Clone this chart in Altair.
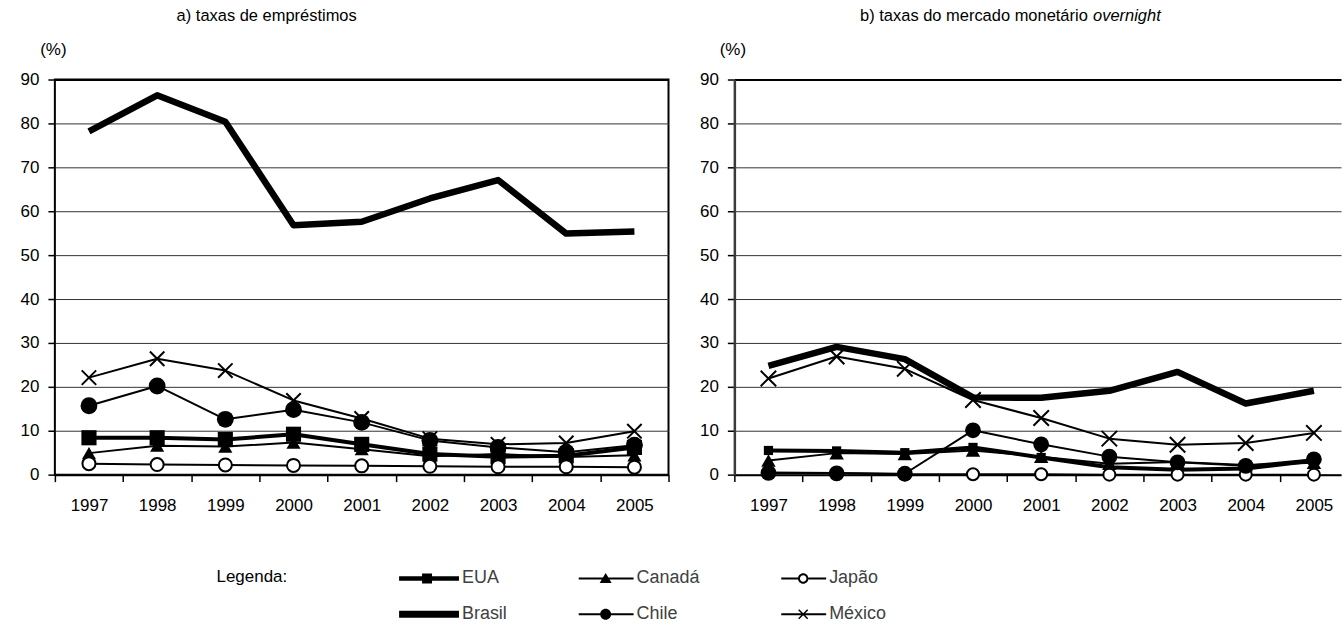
import altair as alt
import pandas as pd

FONT = "Liberation Sans"

anos = [1997, 1998, 1999, 2000, 2001, 2002, 2003, 2004, 2005]
paises = ["EUA", "Canadá", "Japão", "Brasil", "Chile", "México"]

# a) taxas de empréstimos (%)
emp_eua = [8.4, 8.4, 8.0, 9.2, 6.9, 4.7, 4.1, 4.3, 6.2]
emp_canada = [4.9, 6.6, 6.4, 7.3, 5.8, 4.2, 4.7, 4.0, 4.4]
emp_japao = [2.5, 2.3, 2.2, 2.1, 2.0, 1.9, 1.8, 1.8, 1.7]
emp_brasil = [78.2, 86.4, 80.4, 56.8, 57.6, 62.9, 67.1, 54.9, 55.4]
emp_chile = [15.7, 20.2, 12.6, 14.8, 11.9, 7.8, 6.2, 5.1, 6.7]
emp_mexico = [22.1, 26.4, 23.7, 16.9, 12.8, 8.2, 6.9, 7.2, 9.9]

# b) taxas do mercado monetário overnight (%)
ovn_eua = [5.5, 5.4, 5.0, 6.2, 3.9, 1.7, 1.1, 1.4, 3.2]
ovn_canada = [3.2, 4.9, 4.7, 5.5, 4.1, 2.5, 2.9, 2.2, 2.7]
ovn_japao = [0.5, 0.4, 0.1, 0.1, 0.1, 0.0, 0.0, 0.0, 0.0]
ovn_brasil = [24.8, 29.1, 26.3, 17.6, 17.5, 19.1, 23.4, 16.2, 19.1]
ovn_chile = [0.4, 0.3, 0.2, 10.1, 6.9, 4.1, 2.8, 2.0, 3.5]
ovn_mexico = [21.9, 26.9, 24.1, 17.0, 12.9, 8.2, 6.8, 7.2, 9.5]

series_emp = dict(zip(paises, [emp_eua, emp_canada, emp_japao, emp_brasil, emp_chile, emp_mexico]))
series_ovn = dict(zip(paises, [ovn_eua, ovn_canada, ovn_japao, ovn_brasil, ovn_chile, ovn_mexico]))


def tabela(series):
    rows = []
    for pais in paises:
        for ano, v in zip(anos, series[pais]):
            rows.append({"pais": pais, "ano": ano, "valor": v})
    return pd.DataFrame(rows)


df_emp = tabela(series_emp)
df_ovn = tabela(series_ovn)

XSHAPE = "M-1,-1L1,1M-1,1L1,-1"

# line width and marker of each series (marker sizes for panel a, panel b)
estilo = {
    "EUA": dict(lw=4, shape="square", kind="filled", size=(230, 85)),
    "Canadá": dict(lw=2, shape="triangle-up", kind="filled", size=(200, 210)),
    "Japão": dict(lw=2, shape="circle", kind="open", size=(170, 145)),
    "Brasil": dict(lw=6.5, shape=None, kind=None, size=(0, 0)),
    "Chile": dict(lw=2, shape="circle", kind="filled", size=(285, 250)),
    "México": dict(lw=2, shape=XSHAPE, kind="cross", size=(210, 240)),
}

# legend glyphs: line segment plus marker, drawn as filled outlines
legenda_paths = {
    "EUA": "M-1,-0.45H11V0.45H-1Z M3.6,-1H5.6V1H3.6Z",
    "Canadá": "M0,-0.2H11V0.2H0Z M5.4,-1.1L6.6,0.9L4.2,0.9Z",
    "Japão": ("M2,-0.2H5.35V0.2H2Z M7.45,-0.2H11V0.2H7.45Z "
              "M5.35,0A1.05,1.05,0,1,1,7.45,0A1.05,1.05,0,1,1,5.35,0Z "
              "M5.75,0A0.65,0.65,0,1,0,7.05,0A0.65,0.65,0,1,0,5.75,0Z"),
    "Brasil": "M-1,-0.7H11V0.7H-1Z",
    "Chile": "M0,-0.2H11V0.2H0Z M4.3,0A1.1,1.1,0,1,1,6.5,0A1.1,1.1,0,1,1,4.3,0Z",
    "México": ("M2,-0.2H11V0.2H2Z "
               "M5.606,-1.006L7.406,0.794L7.194,1.006L5.394,-0.794Z "
               "M5.394,0.794L7.194,-1.006L7.406,-0.794L5.606,1.006Z"),
}

H = 396
FS = 17
TITLE_Y = -64  # vertical centre of the panel titles, relative to the plot top


def enc_x(dom, ticks, titulo_eixo=None):
    if titulo_eixo:
        kw = dict(title=titulo_eixo["text"], titleX=titulo_eixo["x"], titleY=titulo_eixo["y"],
                  titleAlign="left", titleBaseline="middle", titleAngle=0,
                  titleFontStyle="italic", titleFontWeight="normal",
                  titleFontSize=16.5, titleColor="black", titleFont=FONT)
    else:
        kw = dict(title=None)
    return alt.X(
        "ano:Q",
        scale=alt.Scale(domain=dom, nice=False, zero=False),
        axis=alt.Axis(
            values=ticks,
            labelExpr="datum.value > 2005 ? '' : format(datum.value + 0.5, 'd')",
            labelOffset=34.2, labelFlush=False, labelOverlap=False,
            labelFontSize=FS, labelColor="black", labelFont=FONT, labelPadding=16,
            tickSize=7, tickColor="black", tickWidth=1.5,
            domainColor="black", domainWidth=2, grid=False, **kw,
        ),
    )


def enc_y(dominio_eixo):
    return alt.Y(
        "valor:Q",
        scale=alt.Scale(domain=[0, 90], nice=False),
        axis=alt.Axis(
            values=list(range(0, 91, 10)),
            title="(%)", titleAngle=0, titleX=-2, titleY=-30,
            titleAlign="center", titleBaseline="middle",
            titleFontSize=FS, titleFontWeight="normal", titleColor="black", titleFont=FONT,
            labelFontSize=FS, labelColor="black", labelFont=FONT, labelPadding=9,
            tickSize=7, tickColor="black", tickWidth=1.5,
            grid=True,
            gridColor={"condition": {"test": "datum.value === 90", "value": "black"}, "value": "#333333"},
            gridWidth={"condition": {"test": "datum.value === 90", "value": 2}, "value": 1},
            domain=dominio_eixo, domainColor="#3a3a3a", domainWidth=2.5,
        ),
    )


def painel(df, idx, x, y, com_legenda=False):
    camadas = []
    for pais in paises:
        st = estilo[pais]
        base = alt.Chart(df).transform_filter(alt.datum.pais == pais)
        camadas.append(
            base.mark_line(color="black", strokeWidth=st["lw"], strokeJoin="round").encode(x=x, y=y)
        )
        if st["kind"] == "filled":
            camadas.append(base.mark_point(shape=st["shape"], filled=True, color="black",
                                           size=st["size"][idx], opacity=1, strokeWidth=0).encode(x=x, y=y))
        elif st["kind"] == "open":
            camadas.append(base.mark_point(shape=st["shape"], filled=True, fill="white", stroke="black",
                                           strokeWidth=2, size=st["size"][idx], opacity=1).encode(x=x, y=y))
        elif st["kind"] == "cross":
            camadas.append(base.mark_point(shape=st["shape"], filled=False, color="black",
                                           strokeWidth=2, size=st["size"][idx], opacity=1).encode(x=x, y=y))
    if com_legenda:
        camadas.append(
            alt.Chart(df).mark_point(filled=True, color="black", opacity=0, strokeWidth=0).encode(
                x=x, y=y,
                shape=alt.Shape(
                    "pais:N",
                    scale=alt.Scale(domain=paises, range=[legenda_paths[p] for p in paises]),
                    legend=alt.Legend(
                        title="Legenda:", titleOrient="left", titleFontSize=FS,
                        titleFontWeight="normal", titleColor="black", titleFont=FONT,
                        titlePadding=108, titleAnchor="start", titleBaseline="top",
                        orient="none", legendX=162, legendY=491, direction="horizontal",
                        columns=3, columnPadding=62, rowPadding=18,
                        symbolSize=100, symbolStrokeWidth=0, symbolFillColor="black",
                        symbolOpacity=1, labelOffset=49, labelFontSize=18,
                        labelFont=FONT, labelColor="#404040", labelLimit=0,
                    ),
                ),
            )
        )
    return alt.layer(*camadas)


ticks_a = [1996.5 + i for i in range(10)]
ticks_b = [1996.5 + i for i in range(9)]

WA = 615
WB = 608
dom_a = [1996.5, 2005.5]
dom_b = [1996.5, 1996.5 + 9 * WB / WA]

chart_a = painel(df_emp, 0, enc_x(dom_a, ticks_a), enc_y(False), com_legenda=True).properties(
    width=WA, height=H,
    title=alt.Title("a) taxas de empréstimos", anchor="start", dx=122, frame="group",
                    offset=8, baseline="middle", fontSize=16.5, fontWeight="normal",
                    color="black", font=FONT),
    view=alt.ViewBackground(stroke="black", strokeWidth=2),
)

chart_b = painel(
    df_ovn, 1,
    enc_x(dom_b, ticks_b, titulo_eixo={"text": "overnight", "x": 359, "y": TITLE_Y - H}),
    enc_y(True),
).properties(
    width=WB, height=H,
    title=alt.Title("b) taxas do mercado monetário", anchor="start", dx=126, frame="group",
                    offset=-25, baseline="middle", fontSize=16.5, fontWeight="normal",
                    color="black", font=FONT),
    view=alt.ViewBackground(stroke="transparent"),
)

chart = alt.hconcat(chart_a, chart_b, spacing=66, bounds="flush").properties(
    padding={"left": 19, "top": 6, "right": 0, "bottom": 0},
    background="white",
).configure(font=FONT)

chart.save("out.html", embed_options={"renderer": "svg", "actions": False})
